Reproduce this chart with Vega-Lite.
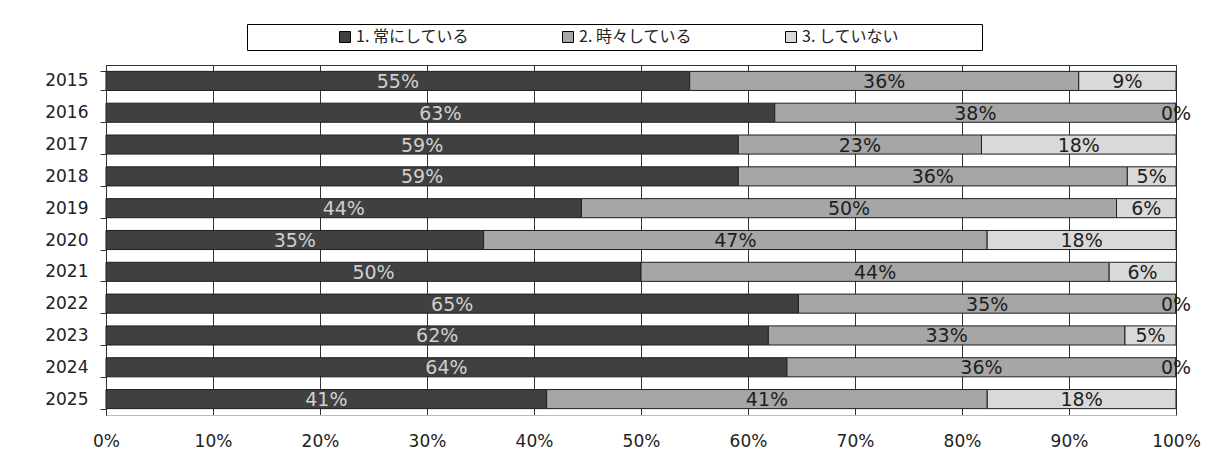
{
  "$schema": "https://vega.github.io/schema/vega-lite/v6.json",
  "width": 1070,
  "height": 350,
  "autosize": {"type": "none"},
  "padding": {"left": 106, "top": 65, "right": 32, "bottom": 42},
  "background": "#ffffff",
  "config": {
    "view": {"stroke": "#333333", "strokeWidth": 1},
    "font": "DejaVu Sans"
  },
  "data": {
    "values": [
      {"year": "2015", "cat": "1. 常にしている", "pct": 54.55},
      {"year": "2015", "cat": "2. 時々している", "pct": 36.36},
      {"year": "2015", "cat": "3. していない", "pct": 9.09},
      {"year": "2016", "cat": "1. 常にしている", "pct": 62.5},
      {"year": "2016", "cat": "2. 時々している", "pct": 37.5},
      {"year": "2016", "cat": "3. していない", "pct": 0},
      {"year": "2017", "cat": "1. 常にしている", "pct": 59.09},
      {"year": "2017", "cat": "2. 時々している", "pct": 22.73},
      {"year": "2017", "cat": "3. していない", "pct": 18.18},
      {"year": "2018", "cat": "1. 常にしている", "pct": 59.09},
      {"year": "2018", "cat": "2. 時々している", "pct": 36.36},
      {"year": "2018", "cat": "3. していない", "pct": 4.55},
      {"year": "2019", "cat": "1. 常にしている", "pct": 44.44},
      {"year": "2019", "cat": "2. 時々している", "pct": 50.0},
      {"year": "2019", "cat": "3. していない", "pct": 5.56},
      {"year": "2020", "cat": "1. 常にしている", "pct": 35.29},
      {"year": "2020", "cat": "2. 時々している", "pct": 47.06},
      {"year": "2020", "cat": "3. していない", "pct": 17.65},
      {"year": "2021", "cat": "1. 常にしている", "pct": 50.0},
      {"year": "2021", "cat": "2. 時々している", "pct": 43.75},
      {"year": "2021", "cat": "3. していない", "pct": 6.25},
      {"year": "2022", "cat": "1. 常にしている", "pct": 64.71},
      {"year": "2022", "cat": "2. 時々している", "pct": 35.29},
      {"year": "2022", "cat": "3. していない", "pct": 0},
      {"year": "2023", "cat": "1. 常にしている", "pct": 61.9},
      {"year": "2023", "cat": "2. 時々している", "pct": 33.33},
      {"year": "2023", "cat": "3. していない", "pct": 4.77},
      {"year": "2024", "cat": "1. 常にしている", "pct": 63.64},
      {"year": "2024", "cat": "2. 時々している", "pct": 36.36},
      {"year": "2024", "cat": "3. していない", "pct": 0},
      {"year": "2025", "cat": "1. 常にしている", "pct": 41.18},
      {"year": "2025", "cat": "2. 時々している", "pct": 41.18},
      {"year": "2025", "cat": "3. していない", "pct": 17.64}
    ]
  },
  "transform": [
    {"stack": "pct", "groupby": ["year"], "sort": [{"field": "cat", "order": "ascending"}], "as": ["v0", "v1"]},
    {"calculate": "(datum.v0 + datum.v1) / 2", "as": "mid"},
    {"calculate": "format(datum.pct, '.0f') + '%'", "as": "label"}
  ],
  "encoding": {
    "y": {
      "field": "year",
      "type": "ordinal",
      "sort": "ascending",
      "scale": {"paddingInner": 0.4, "paddingOuter": 0.2},
      "axis": {
        "title": null,
        "tickBand": "extent",
        "tickSize": 6,
        "tickColor": "#333333",
        "domainColor": "#333333",
        "labelFont": "DejaVu Sans",
        "labelFontSize": 17,
        "labelFontWeight": "normal",
        "labelColor": "#222222",
        "labelPadding": 12,
        "grid": false
      }
    }
  },
  "layer": [
    {
      "mark": {"type": "bar", "stroke": "#1e1e1e", "strokeWidth": 1},
      "encoding": {
        "x": {
          "field": "v0",
          "type": "quantitative",
          "scale": {"domain": [0, 100], "nice": false},
          "axis": {
            "title": null,
            "values": [0, 10, 20, 30, 40, 50, 60, 70, 80, 90, 100],
            "labelExpr": "datum.value + '%'",
            "labelFlush": false,
            "labelOverlap": false,
            "grid": true,
            "gridColor": "#333333",
            "gridWidth": 1,
            "gridOpacity": 1,
            "ticks": false,
            "domainColor": "#bbbbbb",
            "labelFont": "DejaVu Sans",
            "labelFontSize": 17,
            "labelFontWeight": "normal",
            "labelColor": "#222222",
            "labelPadding": 18
          }
        },
        "x2": {"field": "v1"},
        "color": {
          "field": "cat",
          "type": "nominal",
          "scale": {
            "domain": ["1. 常にしている", "2. 時々している", "3. していない"],
            "range": ["#404040", "#a6a6a6", "#d9d9d9"]
          },
          "legend": {
            "title": ".",
            "titleOrient": "right",
            "titleColor": "#ffffff",
            "titleFontSize": 10,
            "titlePadding": 74,
            "orient": "none",
            "direction": "horizontal",
            "legendX": 141,
            "legendY": -41,
            "symbolType": "square",
            "symbolSize": 121,
            "symbolStrokeColor": "#000000",
            "symbolStrokeWidth": 1,
            "symbolOpacity": 1,
            "symbolOffset": 85,
            "labelOffset": 3,
            "columnPadding": 6,
            "labelFont": "Noto Sans CJK JP",
            "labelFontSize": 16,
            "labelColor": "#222222",
            "labelLimit": 400,
            "padding": 5,
            "strokeColor": "#000000",
            "fillColor": "#ffffff"
          }
        }
      }
    },
    {
      "mark": {"type": "text", "font": "DejaVu Sans", "fontSize": 19, "baseline": "middle", "align": "center", "dy": 1},
      "encoding": {
        "x": {"field": "mid", "type": "quantitative"},
        "text": {"field": "label"},
        "color": {
          "condition": {"test": "datum.cat === '1. 常にしている'", "value": "#d0d0d0"},
          "value": "#1e1e1e"
        }
      }
    }
  ]
}
